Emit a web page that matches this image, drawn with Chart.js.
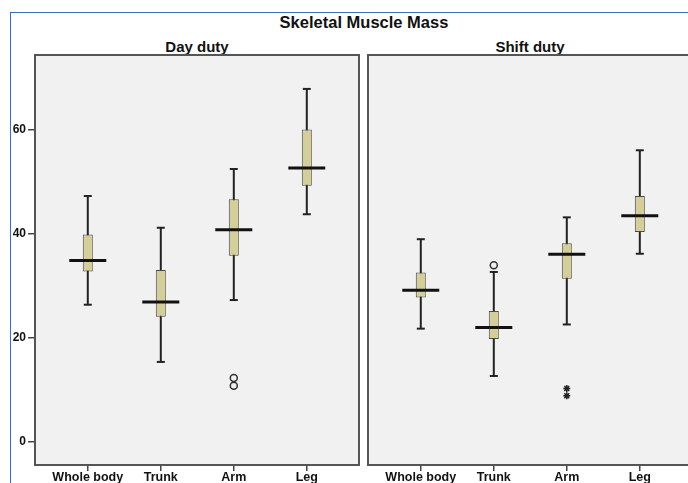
<!DOCTYPE html>
<html>
<head>
<meta charset="utf-8">
<title>Skeletal Muscle Mass</title>
<script src="https://cdn.jsdelivr.net/npm/chart.js@4/dist/chart.umd.min.js"></script>
<style>
  html, body {
    margin: 0;
    padding: 0;
    background: #fff;
  }
  body {
    position: relative;
    width: 688px;
    height: 483px;
    overflow: hidden;
    font-family: "Liberation Sans", Arial, sans-serif;
  }
  .frame {
    position: absolute;
    left: 10px;
    top: 12px;
    width: 700px;
    height: 500px;
    border-left: 1.5px solid #3b6cc4;
    border-top: 1.5px solid #3b6cc4;
  }
  .title {
    position: absolute;
    text-align: center;
    font-weight: bold;
    color: #111;
    line-height: 1;
    white-space: nowrap;
  }
  #main-title { left: 214px; width: 300px; top: 14px; font-size: 16.5px; }
  #day-title { left: 97px; width: 200px; top: 39px; font-size: 15px; }
  #shift-title { left: 430px; width: 200px; top: 39px; font-size: 15px; }
  canvas { position: absolute; top: 0; }
  #dayChart { left: 0; }
  #shiftChart { left: 360px; }
</style>
</head>
<body>
<div class="frame"></div>
<div class="title" id="main-title">Skeletal Muscle Mass</div>
<div class="title" id="day-title">Day duty</div>
<div class="title" id="shift-title">Shift duty</div>
<canvas id="dayChart" width="365" height="483" style="width:365px;height:483px"></canvas>
<canvas id="shiftChart" width="340" height="483" style="width:340px;height:483px"></canvas>

<script>
const categories = ["Whole body", "Trunk", "Arm", "Leg"];
const yTicks = [0, 20, 40, 60];

// Day duty
const dayMin = [26.4, 15.4, 27.3, 43.8];
const dayQ1 = [32.8, 24.1, 35.8, 49.3];
const dayMedian = [34.9, 26.9, 40.8, 52.7];
const dayQ3 = [39.9, 33.1, 46.7, 60.1];
const dayMax = [47.3, 41.2, 52.5, 67.9];
const dayCircleCats = [2, 2];
const dayCircleValues = [12.3, 10.8];
const dayStarCats = [];
const dayStarValues = [];

// Shift duty
const shiftMin = [21.8, 12.7, 22.6, 36.2];
const shiftQ1 = [27.8, 19.8, 31.4, 40.4];
const shiftMedian = [29.2, 22.0, 36.1, 43.5];
const shiftQ3 = [32.6, 25.2, 38.2, 47.3];
const shiftMax = [39.0, 32.7, 43.2, 56.1];
const shiftCircleCats = [1];
const shiftCircleValues = [34.0];
const shiftStarCats = [2, 2];
const shiftStarValues = [10.3, 8.9];

Chart.defaults.font.family = '"Liberation Sans", Arial, sans-serif';
Chart.defaults.color = "#111";

const panelFrame = {
  id: "panelFrame",
  beforeDraw(chart) {
    const { ctx, chartArea } = chart;
    ctx.save();
    ctx.fillStyle = "#f1f1f1";
    ctx.fillRect(chartArea.left, chartArea.top, chartArea.width, chartArea.height);
    ctx.restore();
  },
  afterDraw(chart) {
    const { ctx, chartArea } = chart;
    ctx.save();
    ctx.strokeStyle = "#555";
    ctx.lineWidth = 2;
    ctx.strokeRect(chartArea.left, chartArea.top, chartArea.width, chartArea.height);
    ctx.restore();
  }
};

function points(cats, values) {
  return values.map((v, i) => ({ x: cats[i], y: v }));
}

function buildDatasets(mins, q1s, medians, q3s, maxs, circleCats, circleValues, starCats, starValues) {
  const idx = categories.map((c, i) => i);
  return [
    {
      type: "bar",
      data: idx.map(i => ({ x: i, y: [mins[i], maxs[i]] })),
      backgroundColor: "#222",
      borderWidth: 0,
      maxBarThickness: 2,
      grouped: false,
      order: 4
    },
    {
      type: "scatter",
      data: idx.flatMap(i => [{ x: i, y: mins[i] }, { x: i, y: maxs[i] }]),
      pointStyle: "line",
      pointRadius: 4,
      borderColor: "#222",
      borderWidth: 2,
      order: 3
    },
    {
      type: "bar",
      data: idx.map(i => ({ x: i, y: [q1s[i], q3s[i]] })),
      backgroundColor: "#d4cf98",
      borderColor: "#4a4a4a",
      borderWidth: 1,
      borderSkipped: false,
      maxBarThickness: 10,
      grouped: false,
      order: 2
    },
    {
      type: "scatter",
      data: idx.map(i => ({ x: i, y: medians[i] })),
      pointStyle: "line",
      pointRadius: 18.5,
      borderColor: "#111",
      borderWidth: 3,
      order: 1
    },
    {
      type: "scatter",
      data: points(circleCats, circleValues),
      pointStyle: "circle",
      pointRadius: 3.5,
      backgroundColor: "rgba(0,0,0,0)",
      borderColor: "#333",
      borderWidth: 1.5,
      order: 0
    },
    {
      type: "scatter",
      data: points(starCats, starValues),
      pointStyle: "star",
      pointRadius: 3.5,
      borderColor: "#222",
      borderWidth: 1.5,
      order: 0
    }
  ];
}

function buildOptions(showYAxis, padding) {
  return {
    responsive: false,
    animation: false,
    events: [],
    layout: { padding: padding, autoPadding: false },
    plugins: {
      legend: { display: false },
      tooltip: { enabled: false },
      title: { display: false }
    },
    scales: {
      x: {
        type: "linear",
        offset: false,
        min: -0.723,
        max: 3.715,
        afterBuildTicks: axis => {
          axis.ticks = categories.map((c, i) => ({ value: i }));
        },
        afterFit: axis => {
          axis.height = 18;
          axis.paddingLeft = 0;
          axis.paddingRight = 0;
        },
        ticks: {
          callback: value => categories[value],
          autoSkip: false,
          maxRotation: 0,
          minRotation: 0,
          padding: -1,
          color: "#111",
          font: { size: 12.5, weight: "bold" }
        },
        grid: {
          offset: false,
          drawOnChartArea: false,
          drawTicks: true,
          tickLength: 6,
          color: "#444",
          lineWidth: 1.5
        },
        border: { display: false }
      },
      y: {
        type: "linear",
        display: showYAxis,
        min: -4.42,
        max: 74.42,
        afterBuildTicks: axis => {
          axis.ticks = yTicks.map(v => ({ value: v }));
        },
        afterFit: axis => {
          axis.width = showYAxis ? 35 : 0;
          axis.paddingTop = 0;
          axis.paddingBottom = 0;
        },
        ticks: {
          padding: 2,
          color: "#111",
          font: { size: 12, weight: "bold" }
        },
        grid: {
          drawOnChartArea: false,
          drawTicks: true,
          tickLength: 7,
          color: "#444",
          lineWidth: 1.5
        },
        border: { display: false }
      }
    }
  };
}

new Chart(document.getElementById("dayChart"), {
  type: "bar",
  data: {
    datasets: buildDatasets(dayMin, dayQ1, dayMedian, dayQ3, dayMax,
      dayCircleCats, dayCircleValues, dayStarCats, dayStarValues)
  },
  options: buildOptions(true, { left: 0, top: 55, right: 6, bottom: 0 }),
  plugins: [panelFrame]
});

new Chart(document.getElementById("shiftChart"), {
  type: "bar",
  data: {
    datasets: buildDatasets(shiftMin, shiftQ1, shiftMedian, shiftQ3, shiftMax,
      shiftCircleCats, shiftCircleValues, shiftStarCats, shiftStarValues)
  },
  options: buildOptions(false, { left: 8, top: 55, right: 8, bottom: 0 }),
  plugins: [panelFrame]
});
</script>
</body>
</html>
